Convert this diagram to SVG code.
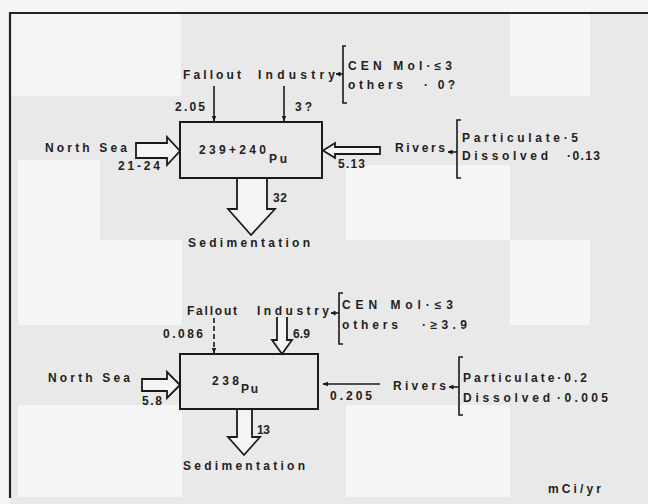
<svg xmlns="http://www.w3.org/2000/svg" width="648" height="504" viewBox="0 0 648 504">
<defs>
<style>
.t{font-family:"Liberation Sans","DejaVu Sans",Arial,sans-serif;font-size:12px;font-weight:bold;fill:#222}
.box{fill:none;stroke:#1a1a1a;stroke-width:2}
.ln{fill:none;stroke:#1a1a1a;stroke-width:1.6}
.blk{fill:#f4f4f4;stroke:#1a1a1a;stroke-width:1.8;stroke-linejoin:miter}
.frame{stroke:#222;stroke-width:2.2;fill:none}
.patch{fill:#f5f5f5}
</style>
<marker id="ah" viewBox="0 0 10 10" refX="9" refY="5" markerWidth="6" markerHeight="6" orient="auto" markerUnits="userSpaceOnUse">
<path d="M0,1 L10,5 L0,9 Z" fill="#1a1a1a"/>
</marker>
<marker id="ahs" viewBox="0 0 10 10" refX="9" refY="5" markerWidth="5" markerHeight="5" orient="auto" markerUnits="userSpaceOnUse">
<path d="M0,0 L10,5 L0,10 Z" fill="#1a1a1a"/>
</marker>
</defs>
<rect x="0" y="0" width="648" height="504" fill="#e9e9e9"/>
<g id="background-patches">
<rect class="patch" x="0" y="0" width="648" height="14"/>
<rect class="patch" x="0" y="0" width="10" height="504"/>
<rect class="patch" x="11" y="14" width="170" height="82"/>
<rect class="patch" x="18" y="160" width="82" height="165"/>
<rect class="patch" x="100" y="240" width="82" height="85"/>
<rect class="patch" x="346" y="165" width="164" height="75"/>
<rect class="patch" x="510" y="14" width="80" height="82"/>
<rect class="patch" x="510" y="240" width="80" height="85"/>
<rect class="patch" x="18" y="405" width="164" height="92"/>
<rect class="patch" x="346" y="405" width="164" height="92"/>
</g>
<g id="frame">
<path class="frame" d="M10,498 L10,13 L648,13"/>
</g>

<g id="pu239-box">
<rect class="box" x="180" y="122" width="142" height="56"/>
<text class="t" x="199" y="154" textLength="67" lengthAdjust="spacing">239+240</text>
<text class="t" x="269" y="163" textLength="18" lengthAdjust="spacing">Pu</text>
</g>
<g id="pu239-fallout">
<text class="t" x="183" y="79" textLength="58" lengthAdjust="spacing">Fallout</text>
<text class="t" x="175" y="111" textLength="30" lengthAdjust="spacing">2.05</text>
</g>
<g id="pu239-industry">
<text class="t" x="258" y="79" textLength="77" lengthAdjust="spacing">Industry</text>
<text class="t" x="295" y="111" textLength="17" lengthAdjust="spacing">3?</text>
</g>
<g id="pu239-industry-detail">
<path class="ln" d="M346,46 L343,46 L343,103 L347,103"/>
<text class="t" x="348" y="70" textLength="104" lengthAdjust="spacing">CEN Mol·≤3</text>
<text class="t" x="348" y="89" textLength="55" lengthAdjust="spacing">others</text>
<text class="t" x="424" y="89" textLength="31" lengthAdjust="spacing">· 0?</text>
</g>
<g id="pu239-northsea">
<text class="t" x="45" y="152" textLength="82" lengthAdjust="spacing">North Sea</text>
<text class="t" x="118" y="170" textLength="42" lengthAdjust="spacing">21-24</text>
</g>
<g id="pu239-rivers">
<text class="t" x="395" y="152" textLength="50" lengthAdjust="spacing">Rivers</text>
<text class="t" x="338" y="168" textLength="27" lengthAdjust="spacing">5.13</text>
</g>
<g id="pu239-rivers-detail">
<path class="ln" d="M461,120 L457,120 L457,178 L461,178"/>
<text class="t" x="462" y="142" textLength="116" lengthAdjust="spacing">Particulate·5</text>
<text class="t" x="462" y="160" textLength="86" lengthAdjust="spacing">Dissolved</text>
<text class="t" x="567" y="160" textLength="33" lengthAdjust="spacing">·0.13</text>
</g>
<g id="pu239-sedimentation">
<text class="t" x="188" y="247" textLength="122" lengthAdjust="spacing">Sedimentation</text>
<text class="t" x="273" y="202" textLength="14" lengthAdjust="spacing">32</text>
</g>

<g id="pu238-box">
<rect class="box" x="180" y="354" width="138" height="55"/>
<text class="t" x="212" y="385" textLength="27" lengthAdjust="spacing">238</text>
<text class="t" x="241" y="393" textLength="17" lengthAdjust="spacing">Pu</text>
</g>
<g id="pu238-fallout">
<text class="t" x="187" y="315" textLength="50" lengthAdjust="spacing">Fallout</text>
<text class="t" x="163" y="338" textLength="40" lengthAdjust="spacing">0.086</text>
</g>
<g id="pu238-industry">
<text class="t" x="257" y="315" textLength="72" lengthAdjust="spacing">Industry</text>
<text class="t" x="293" y="338" textLength="17" lengthAdjust="spacing">6.9</text>
</g>
<g id="pu238-industry-detail">
<path class="ln" d="M343,293 L339,293 L339,344 L343,344"/>
<text class="t" x="342" y="309" textLength="111" lengthAdjust="spacing">CEN Mol·≤3</text>
<text class="t" x="342" y="329" textLength="56" lengthAdjust="spacing">others</text>
<text class="t" x="422" y="329" textLength="45" lengthAdjust="spacing">·≥3.9</text>
</g>
<g id="pu238-northsea">
<text class="t" x="48" y="382" textLength="82" lengthAdjust="spacing">North Sea</text>
<text class="t" x="142" y="405" textLength="20" lengthAdjust="spacing">5.8</text>
</g>
<g id="pu238-rivers">
<text class="t" x="393" y="390" textLength="53" lengthAdjust="spacing">Rivers</text>
<text class="t" x="330" y="400" textLength="42" lengthAdjust="spacing">0.205</text>
</g>
<g id="pu238-rivers-detail">
<path class="ln" d="M463,357 L459,357 L459,415 L463,415"/>
<text class="t" x="463" y="382" textLength="124" lengthAdjust="spacing">Particulate·0.2</text>
<text class="t" x="463" y="402" textLength="87" lengthAdjust="spacing">Dissolved</text>
<text class="t" x="557" y="402" textLength="51" lengthAdjust="spacing">·0.005</text>
</g>
<g id="pu238-sedimentation">
<text class="t" x="183" y="470" textLength="122" lengthAdjust="spacing">Sedimentation</text>
<text class="t" x="257" y="434" textLength="13" lengthAdjust="spacing">13</text>
</g>
<g id="units">
<text class="t" x="548" y="493" textLength="53" lengthAdjust="spacing">mCi/yr</text>
</g>

<g id="connectors">
<path class="ln" d="M214,86 L214,121" marker-end="url(#ah)"/>
<path class="ln" d="M284,86 L284,121" marker-end="url(#ah)"/>
<path class="ln" d="M343,74 L336,74" marker-end="url(#ahs)"/>
<path class="blk" d="M136,143 L167,143 L167,137 L180,151 L167,165 L167,158 L136,158 Z"/>
<path class="blk" d="M380,147 L335,147 L335,143 L323,150.5 L335,158 L335,154 L380,154 Z"/>
<path class="blk" d="M237,179 L237,209 L228,209 L251,235 L275,209 L267,209 L267,179"/>
<path class="ln" d="M457,152 L448,152" marker-end="url(#ahs)"/>
<path class="ln" d="M214,318 L214,353" stroke-dasharray="5,3" marker-end="url(#ah)"/>
<path class="blk" d="M277,317 L277,340 L272,340 L282,354 L292,340 L287,340 L287,317"/>
<path class="ln" d="M339,313 L331,313" marker-end="url(#ahs)"/>
<path class="blk" d="M142,379 L167,379 L167,372 L180,385 L167,398 L167,391 L142,391 Z"/>
<path class="ln" d="M380,384 L323,384" marker-end="url(#ah)"/>
<path class="blk" d="M237,410 L237,437 L228,437 L244,455 L260,437 L252,437 L252,410"/>
<path class="ln" d="M459,387 L449,387" marker-end="url(#ahs)"/>
</g>
</svg>
